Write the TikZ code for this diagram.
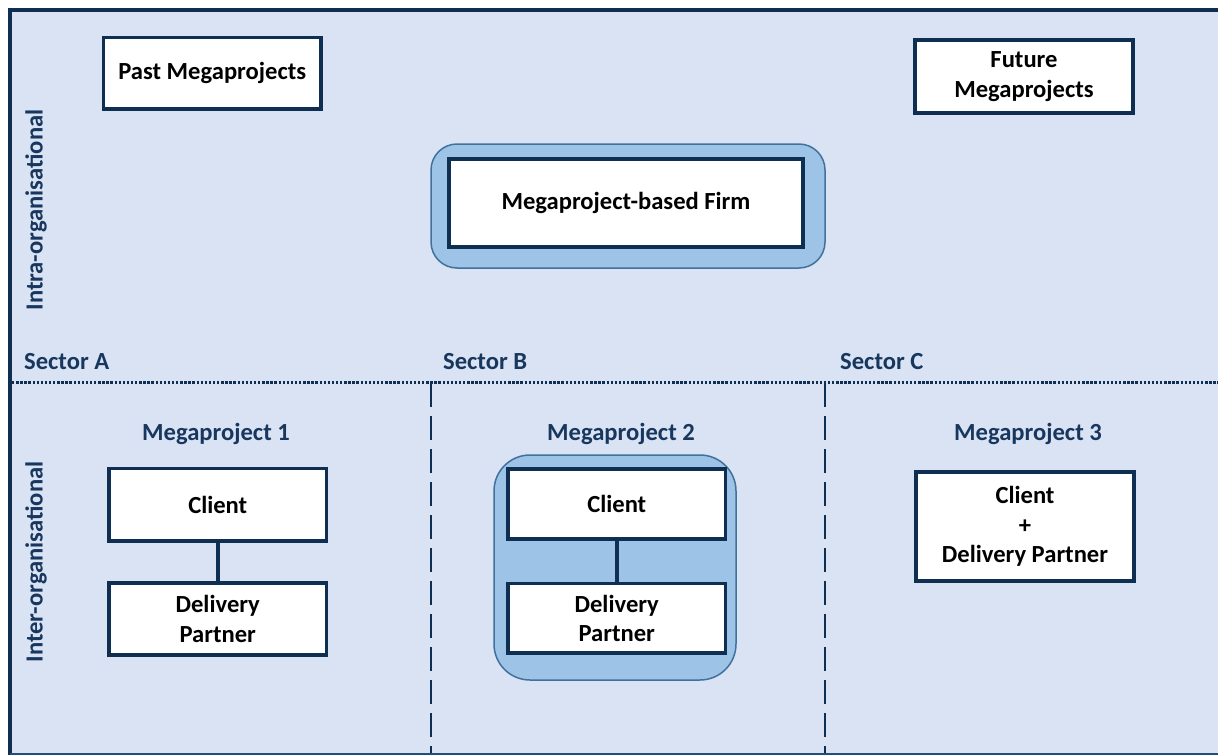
\documentclass[tikz,border=0pt]{standalone}
\usepackage{fontspec}
\setmainfont{Carlito}
\definecolor{navy}{HTML}{0F2F52}
\definecolor{labelblue}{HTML}{17375E}
\definecolor{panel}{HTML}{DAE3F3}
\definecolor{groupfill}{HTML}{9DC3E6}
\definecolor{groupedge}{HTML}{41719C}
\definecolor{rimblue}{HTML}{234C7A}
\begin{document}
\begin{tikzpicture}[x=1pt,y=-1pt,
  txt/.style={font=\bfseries\fontsize{24.6}{29.5}\selectfont},
  box/.style={txt, draw=navy, line width=3.5pt, fill=white, align=center, inner sep=0pt},
  group/.style={draw=groupedge, line width=1.5pt, fill=groupfill, inner sep=0pt},
  label/.style={txt, text=labelblue, inner sep=0pt},
  link/.style={draw=navy, line width=3.5pt},
  sectorline/.style={draw=navy, line width=2.5pt, dash pattern=on 24pt off 9pt},
  levelline/.style={draw=navy, line width=3pt, dash pattern=on 2.4pt off 1.7pt}
]
% page and panel
\useasboundingbox (0,0) rectangle (1218,755);
\fill[white] (0,0) rectangle (1218,755);
\fill[panel] (10,10) rectangle (1218,754);
\coordinate (tl) at (8.25,10);
\coordinate (tr) at (1218,10);
\coordinate (bl) at (10,755);
\coordinate (br) at (1218,754);
\coordinate (lefttop) at (10,10);
\draw[navy, line width=3.5pt] (tl) -- (tr);
\draw[navy, line width=3.5pt] (lefttop) -- (bl);
\draw[rimblue, line width=2pt] (10,754) -- (br);

% level divider and sector dividers
\coordinate (lvL) at (12,382);
\coordinate (lvR) at (1218,382);
\draw[levelline] (lvL) -- (lvR);
\coordinate (sAB) at (431,383);
\coordinate (sABe) at (431,753);
\coordinate (sBC) at (825,383);
\coordinate (sBCe) at (825,753);
\draw[sectorline] (sAB) -- (sABe);
\draw[sectorline] (sBC) -- (sBCe);

% level labels
\node[label, rotate=90] (intra) at (36,210) {Intra-organisational};
\node[label, rotate=90] (inter) at (36,562) {Inter-organisational};

% sector labels
\node[label, anchor=base west] (secA) at (24,369) {Sector A};
\node[label, anchor=base west] (secB) at (443,369) {Sector B};
\node[label, anchor=base west] (secC) at (840,369) {Sector C};

% intra-organisational level
\node[box, minimum width=217.5pt, minimum height=71.5pt] (past) at (212.25,73.25) {Past Megaprojects};
\node[box, minimum width=218pt, minimum height=73pt] (future) at (1024,76.5) {Future\\Megaprojects};
\node[group, rounded corners=26pt, minimum width=394pt, minimum height=124pt] (firmgroup) at (628,206) {};
\node[box, minimum width=354pt, minimum height=88pt] (firm) at (626,203) {Megaproject-based Firm};

% megaproject titles
\node[label, anchor=base] (mp1) at (216,440) {Megaproject 1};
\node[label, anchor=base] (mp2) at (621,440) {Megaproject 2};
\node[label, anchor=base] (mp3) at (1028,440) {Megaproject 3};

% megaproject 1
\node[box, minimum width=217.5pt, minimum height=72.5pt] (c1) at (217.75,504.75) {Client};
\node[box, minimum width=217.5pt, minimum height=72pt] (d1) at (217.75,619) {Delivery\\Partner};
\draw[link] (c1) -- (d1);

% megaproject 2
\node[group, rounded corners=36pt, minimum width=242pt, minimum height=225pt] (mp2group) at (615,567.5) {};
\node[box, minimum width=217.5pt, minimum height=70pt] (c2) at (616.75,504) {Client};
\node[box, minimum width=217.5pt, minimum height=69.5pt] (d2) at (616.75,618.25) {Delivery\\Partner};
\draw[link] (c2) -- (d2);

% megaproject 3
\node[box, minimum width=218pt, minimum height=109pt] (c3) at (1025,526.5) {Client\\+\\Delivery Partner};
\end{tikzpicture}
\end{document}
